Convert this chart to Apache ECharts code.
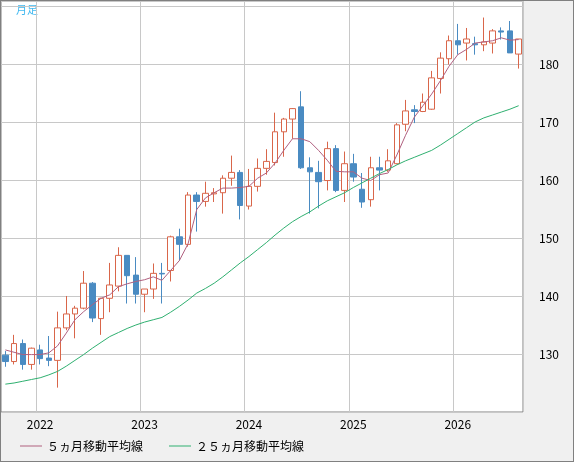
<!DOCTYPE html>
<html><head><meta charset="utf-8">
<script src="https://cdn.jsdelivr.net/npm/echarts@6/dist/echarts.min.js"></script>
<style>html,body{margin:0;padding:0;background:#f0f0f0}#c{width:574px;height:462px;box-sizing:border-box;border:1px solid #808080}</style>
</head><body><div id="c"></div>
<script>
const months = [];
for (let i = 0; i < 60; i++) { const m = (8 + i) % 12; const y = 2021 + Math.floor((8 + i) / 12); months.push(y + '/' + String(m + 1).padStart(2, '0')); }
// [open, close, low, high]
const ohlc = [
[129.8,128.7,127.8,130.5],[128.7,131.8,128.2,133.3],[131.8,128.2,127.3,132.5],[128.2,131.0,127.3,131.1],
[130.7,129.2,128.2,131.6],[129.3,128.9,127.9,133.1],[128.9,134.5,124.2,137.3],[134.5,136.9,134.1,140.0],
[136.9,137.9,132.7,138.3],[137.9,142.2,137.7,144.3],[142.2,136.2,135.5,142.4],[136.1,139.6,133.3,139.7],
[139.6,141.9,137.2,145.7],[141.7,147.0,140.8,148.4],[147.0,143.5,138.7,147.0],[143.6,140.3,138.7,146.7],
[140.3,141.2,137.2,141.2],[141.2,143.9,139.5,145.6],[143.9,143.8,138.7,145.7],[144.4,150.2,142.5,150.4],
[150.2,148.9,146.1,151.6],[148.9,157.4,148.5,157.9],[157.4,156.3,151.1,157.9],[156.3,157.7,155.4,159.7],
[157.6,157.8,156.2,158.6],[157.8,160.3,154.2,160.8],[160.3,161.3,159.0,164.2],[161.3,155.6,153.2,161.7],
[155.5,158.9,154.9,161.9],[158.9,162.0,158.0,163.7],[162.0,163.2,160.9,165.3],[163.0,168.3,162.5,171.6],
[168.3,170.5,164.0,170.7],[170.5,172.3,167.1,172.4],[172.6,162.1,161.9,175.3],[162.1,161.4,154.2,163.9],
[161.3,159.7,155.1,163.3],[159.9,165.4,158.2,166.6],[165.4,158.2,157.9,166.0],[158.2,162.8,156.2,164.9],
[162.8,160.5,159.7,164.5],[158.4,156.2,155.2,161.2],[156.6,162.1,155.4,164.0],[162.1,161.7,158.2,164.0],
[161.7,163.3,161.4,165.3],[162.8,169.5,162.7,169.8],[169.6,171.9,168.4,173.8],[172.1,171.8,169.8,172.9],
[171.8,173.4,171.7,174.9],[172.2,177.6,172.1,178.8],[177.5,181.0,174.9,182.0],[180.9,184.0,179.9,184.9],
[184.0,183.3,181.6,186.9],[183.6,184.3,180.6,186.2],[183.5,183.3,181.6,184.7],[183.3,183.8,182.2,188.0],
[183.6,185.7,181.8,186.0],[185.7,185.5,184.2,186.3],[185.7,181.9,181.9,187.4],[181.7,184.3,179.2,184.3]
];
const ma5 = [130.7,130.3,129.9,129.9,129.9,130.2,131.4,133.6,135.9,137.3,138.5,139.6,140.2,141.6,142.1,142.5,142.8,143.3,142.7,144.4,
146.1,149.0,154.9,156.9,157.8,158.6,158.6,158.7,158.9,160.3,161.2,162.9,165.1,167.1,167.1,166.6,165.1,163.4,161.5,161.4,
161.4,160.3,159.9,160.9,161.2,164.3,167.7,170.8,172.8,174.8,177.1,179.6,181.6,182.5,183.6,183.8,184.0,184.5,184.1,184.2];
const ma25 = [124.8,125.0,125.3,125.6,125.9,126.4,127.0,127.9,128.9,129.9,131.0,132.0,133.0,133.7,134.4,135.0,135.5,135.9,136.3,137.2,
138.2,139.3,140.5,141.3,142.2,143.3,144.5,145.7,146.8,148.0,149.2,150.5,151.7,152.8,153.7,154.5,155.5,156.4,157.1,157.8,
158.7,159.5,160.3,161.1,161.8,162.6,163.3,163.9,164.5,165.1,166.0,167.0,168.0,169.0,170.0,170.7,171.2,171.7,172.2,172.8];
const isJan = (i) => months[i].endsWith('/01');
const chart = echarts.init(document.getElementById('c'));
chart.setOption({
  animation: false,
  backgroundColor: '#f0f0f0',
  textStyle: { fontFamily: 'Noto Sans CJK JP, sans-serif' },
  grid: { left: 0, right: 50, top: 0, bottom: 49, show: true, backgroundColor: '#fff', borderColor: '#808080', borderWidth: 1 },
  graphic: [{ type: 'text', left: 15, top: 3, style: { text: '月足', fill: '#40b8f0', font: '11px Noto Sans CJK JP' } }],
  legend: { left: 14, bottom: 4, itemWidth: 22, itemGap: 26, icon: 'rect', itemHeight: 1,
    textStyle: { fontSize: 12, color: '#000' },
    data: [{ name: '５ヵ月移動平均線' }, { name: '２５ヵ月移動平均線' }] },
  xAxis: { type: 'category', data: months, boundaryGap: true,
    axisLine: { show: false }, axisTick: { show: false },
    axisLabel: { interval: (i) => isJan(i), formatter: (v) => v.slice(0, 4), color: '#000', fontSize: 12, margin: 6 },
    splitLine: { show: true, interval: (i) => isJan(i), lineStyle: { color: '#c8c8c8' } } },
  yAxis: { type: 'value', position: 'right', min: 120, max: 190.85, interval: 10,
    axisLine: { show: false }, axisTick: { show: false },
    axisLabel: { color: '#000', fontSize: 12, margin: 16, formatter: (v) => (v >= 130 && v <= 180) ? v : '' },
    splitLine: { lineStyle: { color: '#c8c8c8' } } },
  series: [
    { type: 'candlestick', data: ohlc, barWidth: 6,
      itemStyle: { color: '#fff', color0: '#4a8bc2', borderColor: '#d9664a', borderColor0: '#4a8bc2', borderWidth: 1 } },
    { name: '５ヵ月移動平均線', type: 'line', data: ma5, symbol: 'none', lineStyle: { color: '#b0607f', width: 1 }, itemStyle: { color: '#b0607f' } },
    { name: '２５ヵ月移動平均線', type: 'line', data: ma25, symbol: 'none', lineStyle: { color: '#2fb070', width: 1 }, itemStyle: { color: '#2fb070' } }
  ]
});
</script></body></html>
